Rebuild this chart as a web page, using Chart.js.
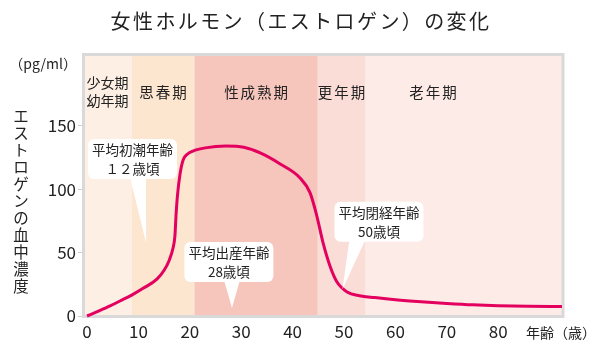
<!DOCTYPE html>
<html><head><meta charset="utf-8">
<script src="https://cdn.jsdelivr.net/npm/chart.js@4.4.1/dist/chart.umd.min.js"></script>
<style>html,body{margin:0;padding:0;background:#fff;}#wrap{width:600px;height:356px;}</style>
</head><body><div id="wrap"><canvas id="c" width="600" height="356"></canvas></div>
<script>
// ---- data ----
const ages = [0,2,4.5,6.5,8.7,11,13.6,15,16,16.7,17.1,17.3,17.6,18.1,18.7,19.5,20.6,23,27,30.5,33.7,37.5,41.4,43.4,44.7,45.9,47.3,48.6,50.6,53,56,60,65,70,75,80,86,92.4];
const estrogen = [0,3.5,8,12,16.5,22,29,36,44,53,63,78,95,112,123,127.5,130,132.5,134,133,128.5,120,109,97,79,58,39,27,19,16,14.5,12.8,11.2,9.9,8.8,8.1,7.7,7.5];
const xTickValues = [0,10,20,30,40,50,60,70,80];
const yTickValues = [0,50,100,150];
const stageNames = [["少女期","幼年期"],["思春期"],["性成熟期"],["更年期"],["老年期"]];
const stageStart = [-0.8,8.7,20.9,44.9,54.2];
const stageEnd = [8.7,20.9,44.9,54.2,92.6];
const stageLabelAt = [4,14.8,32.9,49.5,67.3];
const stageColors = ["#fdefe4","#fce6cf","#f6c5bc","#fbddd7","#fdebe7"];
const calloutTexts = [["平均初潮年齢","１２歳頃"],["平均出産年齢","28歳頃"],["平均閉経年齢","50歳頃"]];
const calloutCenterAge = [8.85,27.6,56.8];
const calloutCenterVal = [123.7,42.5,74.3];
const calloutBaseAge = [9.9,28.2,52.6];
const calloutTipAge = [11.5,28.2,49.7];
const calloutTipVal = [57.5,6.3,21];
const titleText = "女性ホルモン（エストロゲン）の変化";
const yTitle = "エストロゲンの血中濃度";
const unitText = "（pg/ml）";
const xUnitText = "年齢（歳）";

const JP = '"Noto Sans CJK JP", "Noto Sans", sans-serif';
const TEXT = '#222';

const decor = {
  id: 'decor',
  beforeDatasetsDraw(chart) {
    const {ctx, chartArea: a, scales: {x, y}} = chart;
    ctx.save();
    for (let i = 0; i < stageNames.length; i++) {
      const x0 = Math.max(a.left, x.getPixelForValue(stageStart[i]));
      const x1 = Math.min(a.right, x.getPixelForValue(stageEnd[i]));
      ctx.fillStyle = stageColors[i];
      ctx.fillRect(x0, a.top, x1 - x0, a.bottom - a.top);
    }
    ctx.fillStyle = TEXT;
    ctx.textAlign = 'center';
    ctx.textBaseline = 'middle';
    for (let i = 0; i < stageNames.length; i++) {
      const lines = stageNames[i];
      const cx = x.getPixelForValue(stageLabelAt[i]);
      if (lines.length === 1) {
        ctx.font = '14.5px ' + JP;
        ctx.letterSpacing = '2px';
        ctx.fillText(lines[0], cx + 1, a.top + 38);
      } else {
        ctx.font = '14px ' + JP;
        ctx.letterSpacing = '0px';
        ctx.fillText(lines[0], cx, a.top + 29);
        ctx.fillText(lines[1], cx, a.top + 47);
      }
    }
    ctx.letterSpacing = '0px';
    ctx.strokeStyle = '#d9d9d9';
    ctx.lineWidth = 3;
    ctx.strokeRect(a.left + 0.5, a.top + 0.5, a.right - a.left - 0.5, a.bottom - a.top);
    ctx.restore();
  },
  afterDatasetsDraw(chart) {
    const {ctx, scales: {x, y}} = chart;
    ctx.save();
    ctx.font = '13.5px ' + JP;
    ctx.letterSpacing = '0px';
    for (let i = 0; i < calloutTexts.length; i++) {
      const lines = calloutTexts[i];
      const cx = x.getPixelForValue(calloutCenterAge[i]);
      const cy = y.getPixelForValue(calloutCenterVal[i]);
      const w = Math.max(...lines.map(t => ctx.measureText(t).width)) + 8;
      const h = 40;
      const bx = x.getPixelForValue(calloutBaseAge[i]);
      const tx = x.getPixelForValue(calloutTipAge[i]);
      const ty = y.getPixelForValue(calloutTipVal[i]);
      ctx.fillStyle = '#ffffff';
      ctx.beginPath();
      ctx.roundRect(cx - w / 2, cy - h / 2, w, h, 6);
      ctx.fill();
      ctx.beginPath();
      ctx.moveTo(bx - 8, cy + h / 2 - 2);
      ctx.lineTo(bx + 8, cy + h / 2 - 2);
      ctx.lineTo(tx, ty);
      ctx.closePath();
      ctx.fill();
      ctx.fillStyle = TEXT;
      ctx.textAlign = 'center';
      ctx.textBaseline = 'middle';
      ctx.fillText(lines[0], cx, cy - 9);
      ctx.fillText(lines[1], cx, cy + 10);
    }
    ctx.restore();
  },
  afterDraw(chart) {
    const {ctx} = chart;
    ctx.save();
    ctx.fillStyle = TEXT;
    ctx.textBaseline = 'middle';
    ctx.textAlign = 'center';
    ctx.font = '20px ' + JP;
    ctx.letterSpacing = '2.4px';
    ctx.fillText(titleText, 301, 21);
    ctx.letterSpacing = '0px';
    ctx.font = '14px ' + JP;
    ctx.textAlign = 'right';
    ctx.fillText(unitText, 77, 64);
    ctx.textAlign = 'left';
    ctx.fillText(xUnitText, 526, 333);
    ctx.font = '15.5px ' + JP;
    ctx.textAlign = 'center';
    Array.from(yTitle).forEach((ch, i) => ctx.fillText(ch, 21, 116 + i * 17));
    ctx.restore();
  }
};

new Chart(document.getElementById('c'), {
  type: 'line',
  data: {
    labels: ages,
    datasets: [{
      data: ages.map((a, i) => ({x: a, y: estrogen[i]})),
      borderColor: '#e4005f',
      borderWidth: 3,
      pointRadius: 0,
      fill: false,
      cubicInterpolationMode: 'monotone',
      clip: false
    }]
  },
  options: {
    responsive: false,
    devicePixelRatio: 1,
    animation: false,
    layout: {padding: {top: 54, right: 37, left: 0, bottom: 0}},
    plugins: {legend: {display: false}, tooltip: {enabled: false}, title: {display: false}},
    scales: {
      x: {
        type: 'linear', min: -0.78, max: 92.6,
        grid: {display: false, drawTicks: false},
        border: {display: false},
        afterFit(s) { s.height = 40; },
        afterBuildTicks(s) { s.ticks = xTickValues.map(v => ({value: v})); },
        ticks: {font: {family: JP, size: 17}, color: TEXT, padding: 5, maxRotation: 0, autoSkip: false}
      },
      y: {
        type: 'linear', min: 0, max: 206.5,
        grid: {drawOnChartArea: false, drawTicks: true, tickLength: 5, color: '#cfcfcf', lineWidth: 1},
        border: {display: false},
        afterFit(s) { s.width = 83; },
        afterBuildTicks(s) { s.ticks = yTickValues.map(v => ({value: v})); },
        ticks: {font: {family: JP, size: 17}, color: TEXT, padding: 2, autoSkip: false}
      }
    }
  },
  plugins: [decor]
});
</script>
</body></html>
